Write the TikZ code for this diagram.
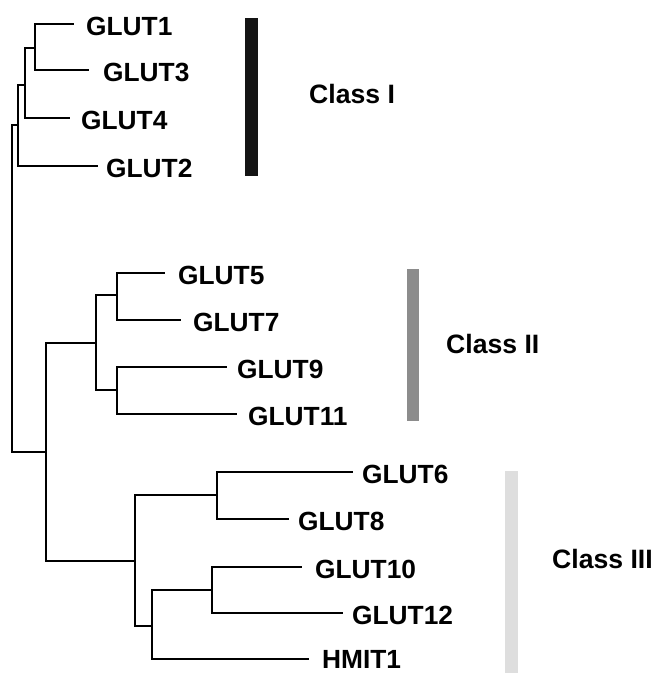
\documentclass[tikz,border=0pt]{standalone}
\usepackage{fontspec}
\setmainfont{Liberation Sans}
\begin{document}
\begin{tikzpicture}[x=1pt,y=-1pt,
  branch/.style={line width=1.9pt, line join=miter, line cap=rect},
  leaf/.style={anchor=base west, inner sep=0pt, font=\fontsize{26.3}{31}\selectfont\bfseries},
  classlabel/.style={anchor=base west, inner sep=0pt, font=\fontsize{26.6}{31}\selectfont\bfseries},
  classbar/.style={inner sep=0pt, minimum width=13pt, draw=none}]
\useasboundingbox (0,0) rectangle (656,673);

% internal nodes of the tree
\coordinate (n13)   at (35,48);
\coordinate (n134)  at (25,85);
\coordinate (nI)    at (18,125);
\coordinate (root)  at (12,452);
\coordinate (nIIx)  at (46,452);
\coordinate (nII)   at (96,343);
\coordinate (n57)   at (117,295);
\coordinate (n911)  at (117,390);
\coordinate (nIII)  at (135,561);
\coordinate (n68)   at (217,495);
\coordinate (n10h)  at (152,626);
\coordinate (n1012) at (212,590);

% branch tips
\coordinate (t1)  at (73,24);
\coordinate (t3)  at (88,70);
\coordinate (t4)  at (69,118);
\coordinate (t2)  at (97,166);
\coordinate (t5)  at (164,273);
\coordinate (t7)  at (180,320);
\coordinate (t9)  at (226,367);
\coordinate (t11) at (236,414);
\coordinate (t6)  at (352,472);
\coordinate (t8)  at (288,519);
\coordinate (t10) at (301,567);
\coordinate (t12) at (342,613);
\coordinate (th)  at (308,659);

% leaf labels
\node[leaf] (l1)  at (86,35)  {GLUT1};
\node[leaf] (l3)  at (103,81) {GLUT3};
\node[leaf] (l4)  at (81,129) {GLUT4};
\node[leaf] (l2)  at (106,177) {GLUT2};
\node[leaf] (l5)  at (178,284) {GLUT5};
\node[leaf] (l7)  at (193,331) {GLUT7};
\node[leaf] (l9)  at (237,378) {GLUT9};
\node[leaf] (l11) at (248,425) {GLUT11};
\node[leaf] (l6)  at (362,483) {GLUT6};
\node[leaf] (l8)  at (298,530) {GLUT8};
\node[leaf] (l10) at (315,578) {GLUT10};
\node[leaf] (l12) at (352,624) {GLUT12};
\node[leaf] (lh)  at (322,668) {HMIT1};

% tree branches
\draw[branch] (t1) -| (n13) |- (t3);
\draw[branch] (n13) -| (n134) |- (t4);
\draw[branch] (n134) -| (nI) |- (t2);
\draw[branch] (nI) -| (root) -- (nIIx);
\draw[branch] (t5) -| (n57) |- (t7);
\draw[branch] (t9) -| (n911) |- (t11);
\draw[branch] (n57) -| (nII) |- (n911);
\draw[branch] (nII) -| (nIIx) |- (nIII);
\draw[branch] (t6) -| (n68) |- (t8);
\draw[branch] (t10) -| (n1012) |- (t12);
\draw[branch] (n68) -| (nIII) |- (n10h);
\draw[branch] (n1012) -| (n10h) |- (th);

% class bars and labels
\node[classbar, fill=black!92, minimum height=158pt] (barI)   at (251.5,97)  {};
\node[classbar, fill=black!45, minimum width=12pt, minimum height=152pt] (barII) at (413,345) {};
\node[classbar, fill=black!13, minimum height=202pt] (barIII) at (511.5,572) {};
\node[classlabel] (cI)   at (309,103) {Class I};
\node[classlabel] (cII)  at (446,353) {Class II};
\node[classlabel] (cIII) at (552,568) {Class III};
\end{tikzpicture}
\end{document}
